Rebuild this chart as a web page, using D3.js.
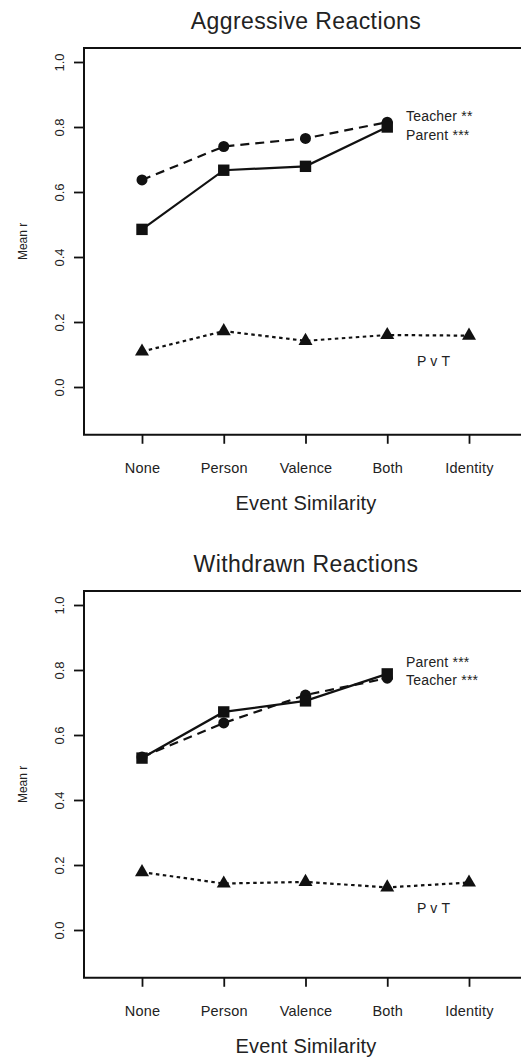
<!DOCTYPE html>
<html><head><meta charset="utf-8">
<script src="https://cdn.jsdelivr.net/npm/d3@7"></script>
<style>body{margin:0;background:#fff;overflow:hidden}svg{display:block}text{font-family:"Liberation Sans",Arial,sans-serif;fill:#222}</style>
</head><body>
<script>
const categories = ["None","Person","Valence","Both","Identity"];
const yTicks = [0.0,0.2,0.4,0.6,0.8,1.0];
const titles = ["Aggressive Reactions","Withdrawn Reactions"];
const aggTeacher = [0.637,0.740,0.765,0.815];
const aggParent = [0.485,0.667,0.679,0.800];
const aggPvT = [0.109,0.172,0.142,0.160,0.158];
const wdrParent = [0.529,0.671,0.705,0.788];
const wdrTeacher = [0.532,0.637,0.723,0.775];
const wdrPvT = [0.178,0.143,0.148,0.131,0.146];
const aggLabels = ["Teacher **","Parent ***","P v T"];
const wdrLabels = ["Parent ***","Teacher ***","P v T"];

const W=521,H=1057;
const svg=d3.select("body").append("svg").attr("width",W).attr("height",H);

function panel(offY,title,teacher,parent,pvt){
  const g=svg.append("g").attr("transform",`translate(0,${offY})`);
  const x=d3.scalePoint().domain(categories).range([142,469]);
  const y=d3.scaleLinear().domain([0,1]).range([387,62]);
  const top=y(1.043), bot=y(-0.147), left=84, right=560;
  g.append("text").attr("x",306).attr("y",21).attr("text-anchor","middle").attr("dominant-baseline","central").style("font-size","23px").style("letter-spacing","0.4px").text(title);
  g.append("path").attr("d",`M${right},${top}H${left}V${bot}H${right}`).attr("fill","none").attr("stroke","#111").attr("stroke-width",2);
  // y axis
  const ya=g.append("g").attr("transform",`translate(${left},0)`).call(d3.axisLeft(y).tickValues(yTicks).tickFormat(d3.format(".1f")).tickSize(10).tickPadding(0));
  ya.select(".domain").remove();
  ya.selectAll("line").attr("stroke","#111").attr("stroke-width",1.8);
  ya.selectAll("text").attr("x",0).attr("y",0).attr("dy",null).attr("transform",`translate(${59-left},0) rotate(-90)`)
    .attr("text-anchor","middle").attr("dominant-baseline","central").style("font-size","13px");
  // x axis
  const xa=g.append("g").attr("transform",`translate(0,${bot})`).call(d3.axisBottom(x).tickSize(9).tickPadding(0));
  xa.select(".domain").remove();
  xa.selectAll("line").attr("stroke","#111").attr("stroke-width",1.8);
  xa.selectAll("text").attr("y",468-bot).attr("dy",null).attr("dominant-baseline","central").style("font-size","14.5px").style("letter-spacing","0.2px").attr("fill","#222");
  g.append("text").attr("x",306).attr("y",503).attr("text-anchor","middle").attr("dominant-baseline","central").style("font-size","20px").style("letter-spacing","0.2px").text("Event Similarity");
  g.append("text").attr("transform",`translate(23,${(top+bot)/2}) rotate(-90)`).attr("text-anchor","middle").attr("dominant-baseline","central").style("font-size","12px").text("Mean r");
  const line=d3.line().x((d,i)=>x(categories[i])).y(d=>y(d));
  g.append("path").datum(teacher).attr("d",line).attr("fill","none").attr("stroke","#111").attr("stroke-width",2.2).attr("stroke-dasharray","9,6");
  g.append("path").datum(parent).attr("d",line).attr("fill","none").attr("stroke","#111").attr("stroke-width",2.2);
  g.append("path").datum(pvt).attr("d",line).attr("fill","none").attr("stroke","#111").attr("stroke-width",2.2).attr("stroke-dasharray","3.5,3.5");
  g.selectAll(".c").data(teacher).enter().append("circle").attr("cx",(d,i)=>x(categories[i])).attr("cy",d=>y(d)).attr("r",5.5).attr("fill","#111");
  g.selectAll(".s").data(parent).enter().append("rect").attr("x",(d,i)=>x(categories[i])-5.7).attr("y",d=>y(d)-5.7).attr("width",11.4).attr("height",11.4).attr("fill","#111");
  const tri=d3.symbol().type(d3.symbolTriangle).size(85);
  g.selectAll(".t").data(pvt).enter().append("path").attr("d",tri).attr("transform",(d,i)=>`translate(${x(categories[i])},${y(d)})`).attr("fill","#111");
  return g;
}
function labels(g,texts,ys){
  g.selectAll(".lab").data(texts).enter().append("text")
    .attr("x",(d,i)=>i<2?406:417).attr("y",(d,i)=>ys[i])
    .attr("dominant-baseline","central").style("font-size","14px").style("letter-spacing","0.2px").text(d=>d);
}
const g1=panel(0,titles[0],aggTeacher,aggParent,aggPvT);
labels(g1,aggLabels,[116,135,361]);
const g2=panel(543,titles[1],wdrTeacher,wdrParent,wdrPvT);
labels(g2,wdrLabels,[119,137,365]);
</script>
</body></html>
